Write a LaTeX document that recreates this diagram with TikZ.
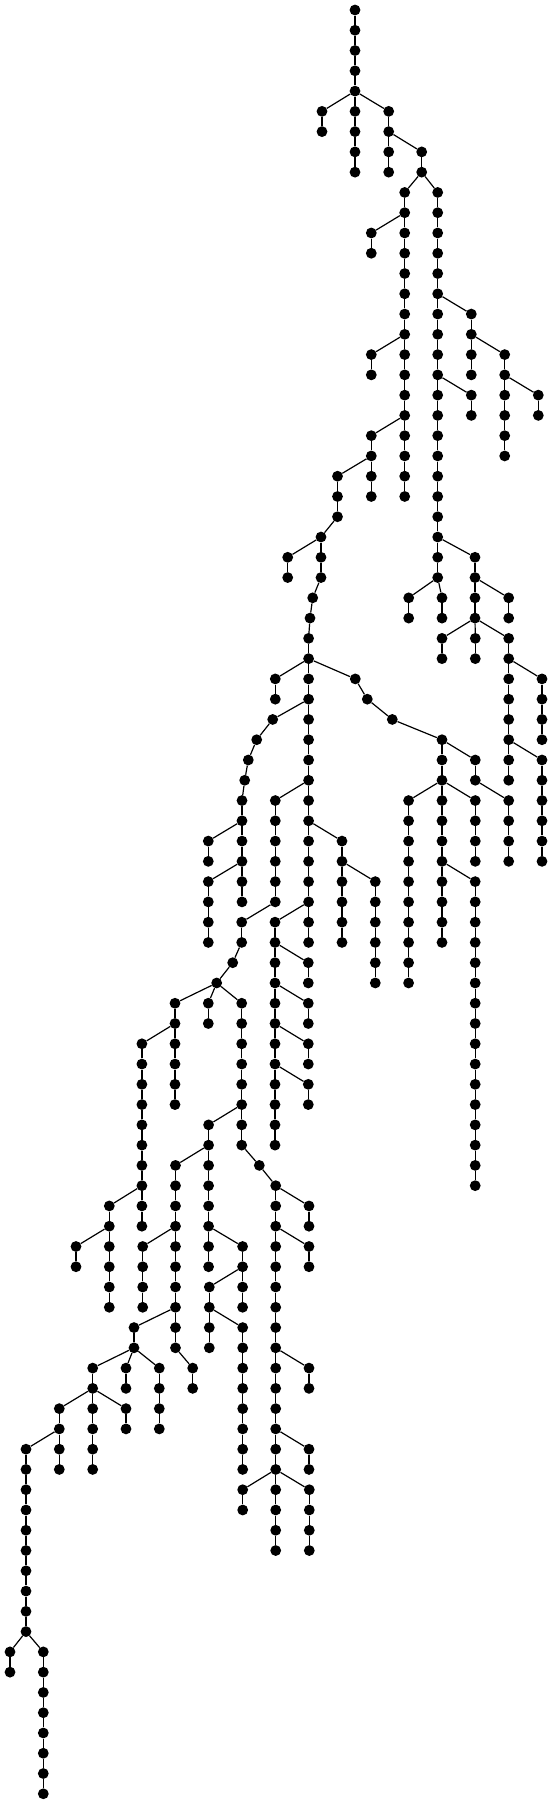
\documentclass[tikz,border=0pt]{standalone}
\newcommand{\tchain}[5]{%
  \foreach \r in {#3,...,#4}{\node[v] (#1r\r) at (#2,{10+20.27*\r}) {};}%
  \foreach \r in {#3,...,#4}{\ifnum\r>#3\relax\pgfmathtruncatemacro{\p}{\r-1}\draw[e] (#1r\p) -- (#1r\r);\fi}%
  \if\relax\detokenize{#5}\relax\else\draw[e] (#5) -- (#1r#3);\fi
}
\begin{document}
\begin{tikzpicture}[x=1pt,y=-1pt,
  v/.style={circle,fill=black,draw=none,inner sep=0pt,minimum size=10.8pt},
  e/.style={line width=1.2pt,black}]
\useasboundingbox (0,0) rectangle (552,1804);
\tchain{A}{355}{0}{4}{}
\tchain{B}{322}{5}{6}{Ar4}
\tchain{C}{355}{5}{8}{Ar4}
\tchain{D}{388.7}{5}{8}{Ar4}
\tchain{E}{421.7}{7}{8}{Dr6}
\tchain{F}{404.7}{9}{24}{Er8}
\tchain{G}{371.3}{11}{12}{Fr10}
\tchain{H}{371.3}{17}{18}{Fr16}
\tchain{I}{371.3}{21}{24}{Fr20}
\tchain{J}{337.5}{23}{25}{Ir22}
\tchain{K}{321}{26}{28}{Jr25}
\tchain{L}{287.7}{27}{28}{Kr26}
\tchain{M}{312.7}{29}{29}{Kr28}
\tchain{N}{310}{30}{30}{Mr29}
\tchain{P}{308.6}{31}{46}{Nr30}
\tchain{PA}{275.3}{33}{34}{Pr32}
\tchain{Ga}{355.3}{33}{33}{Pr32}
\tchain{Gb}{367.3}{34}{34}{Gar33}
\tchain{Gc}{392.3}{35}{35}{Gbr34}
\tchain{S}{442}{36}{46}{Gcr35}
\tchain{T}{475.3}{37}{38}{Sr36}
\tchain{U}{508.7}{39}{42}{Tr38}
\tchain{V}{408.6}{39}{48}{Sr38}
\tchain{W}{475.3}{39}{42}{Sr38}
\tchain{X}{475.2}{43}{58}{Sr42}
\tchain{Y}{437.7}{9}{28}{Er8}
\tchain{Z}{471.3}{15}{18}{Yr14}
\tchain{AA}{504.7}{17}{22}{Zr16}
\tchain{AB}{538.3}{19}{20}{AAr18}
\tchain{AC}{471.3}{19}{20}{Yr18}
\tchain{AD}{475}{27}{30}{Yr26}
\tchain{AE}{508.7}{29}{30}{ADr28}
\tchain{AF}{442}{31}{32}{ADr30}
\tchain{AG}{475.3}{31}{32}{ADr30}
\tchain{AH}{508.7}{31}{38}{ADr30}
\tchain{AI}{542}{33}{36}{AHr32}
\tchain{AJ}{542}{37}{42}{AHr36}
\tchain{AK}{408.7}{29}{30}{Yr28}
\tchain{AL}{442}{29}{30}{Yr28}
\tchain{Qa}{272.7}{35}{35}{Pr34}
\tchain{Qb}{256.7}{36}{36}{Qar35}
\tchain{Qc}{248.3}{37}{37}{Qbr36}
\tchain{Qd}{244.7}{38}{38}{Qcr37}
\tchain{Qe}{242}{39}{44}{Qdr38}
\tchain{Qf}{208.3}{41}{42}{Qer40}
\tchain{Qg}{208.3}{43}{46}{Qer42}
\tchain{RA}{275.3}{39}{44}{Pr38}
\tchain{RB}{241.7}{45}{46}{RAr44}
\tchain{RC}{232.7}{47}{47}{RBr46}
\tchain{RD}{216.7}{48}{48}{RCr47}
\tchain{RE}{208.3}{49}{50}{RDr48}
\tchain{RF}{175}{49}{54}{RDr48}
\tchain{RG}{141.9}{51}{60}{RFr50}
\tchain{RH}{109.3}{59}{64}{RGr58}
\tchain{RI}{76}{61}{62}{RHr60}
\tchain{RJ}{241.7}{49}{56}{RDr48}
\tchain{RK}{208.6}{55}{62}{RJr54}
\tchain{RL}{175.5}{57}{66}{RKr56}
\tchain{RM}{192.7}{67}{68}{RLr66}
\tchain{RN}{142.7}{61}{64}{RLr60}
\tchain{RO}{134}{65}{66}{RLr64}
\tchain{RP}{126}{67}{68}{ROr66}
\tchain{RQ}{159.3}{67}{70}{ROr66}
\tchain{RR}{92.7}{67}{72}{ROr66}
\tchain{RS}{59.3}{69}{72}{RRr68}
\tchain{RT}{126}{69}{70}{RRr68}
\tchain{RU}{26}{71}{80}{RSr70}
\tchain{RV}{10}{81}{82}{RUr80}
\tchain{RW}{43.3}{81}{88}{RUr80}
\tchain{RX}{242.6}{61}{64}{RKr60}
\tchain{RY}{209.3}{63}{66}{RXr62}
\tchain{RZ}{242.7}{65}{72}{RYr64}
\tchain{SA}{259.3}{57}{57}{RJr56}
\tchain{SB}{275.7}{58}{76}{SAr57}
\tchain{SC}{309}{59}{60}{SBr58}
\tchain{SD}{309}{61}{62}{SBr60}
\tchain{SE}{309}{67}{68}{SBr66}
\tchain{SF}{309}{71}{72}{SBr70}
\tchain{SG}{309.3}{73}{76}{SBr72}
\tchain{SH}{242.7}{73}{74}{SBr72}
\tchain{TA}{275}{45}{56}{Pr44}
\tchain{TB}{308.3}{47}{48}{TAr46}
\tchain{TC}{308.3}{49}{50}{TAr48}
\tchain{TD}{308.3}{51}{52}{TAr50}
\tchain{TE}{308.3}{53}{54}{TAr52}
\tchain{UA}{342}{41}{46}{Pr40}
\tchain{UB}{375.3}{43}{48}{UAr42}
\end{tikzpicture}
\end{document}
